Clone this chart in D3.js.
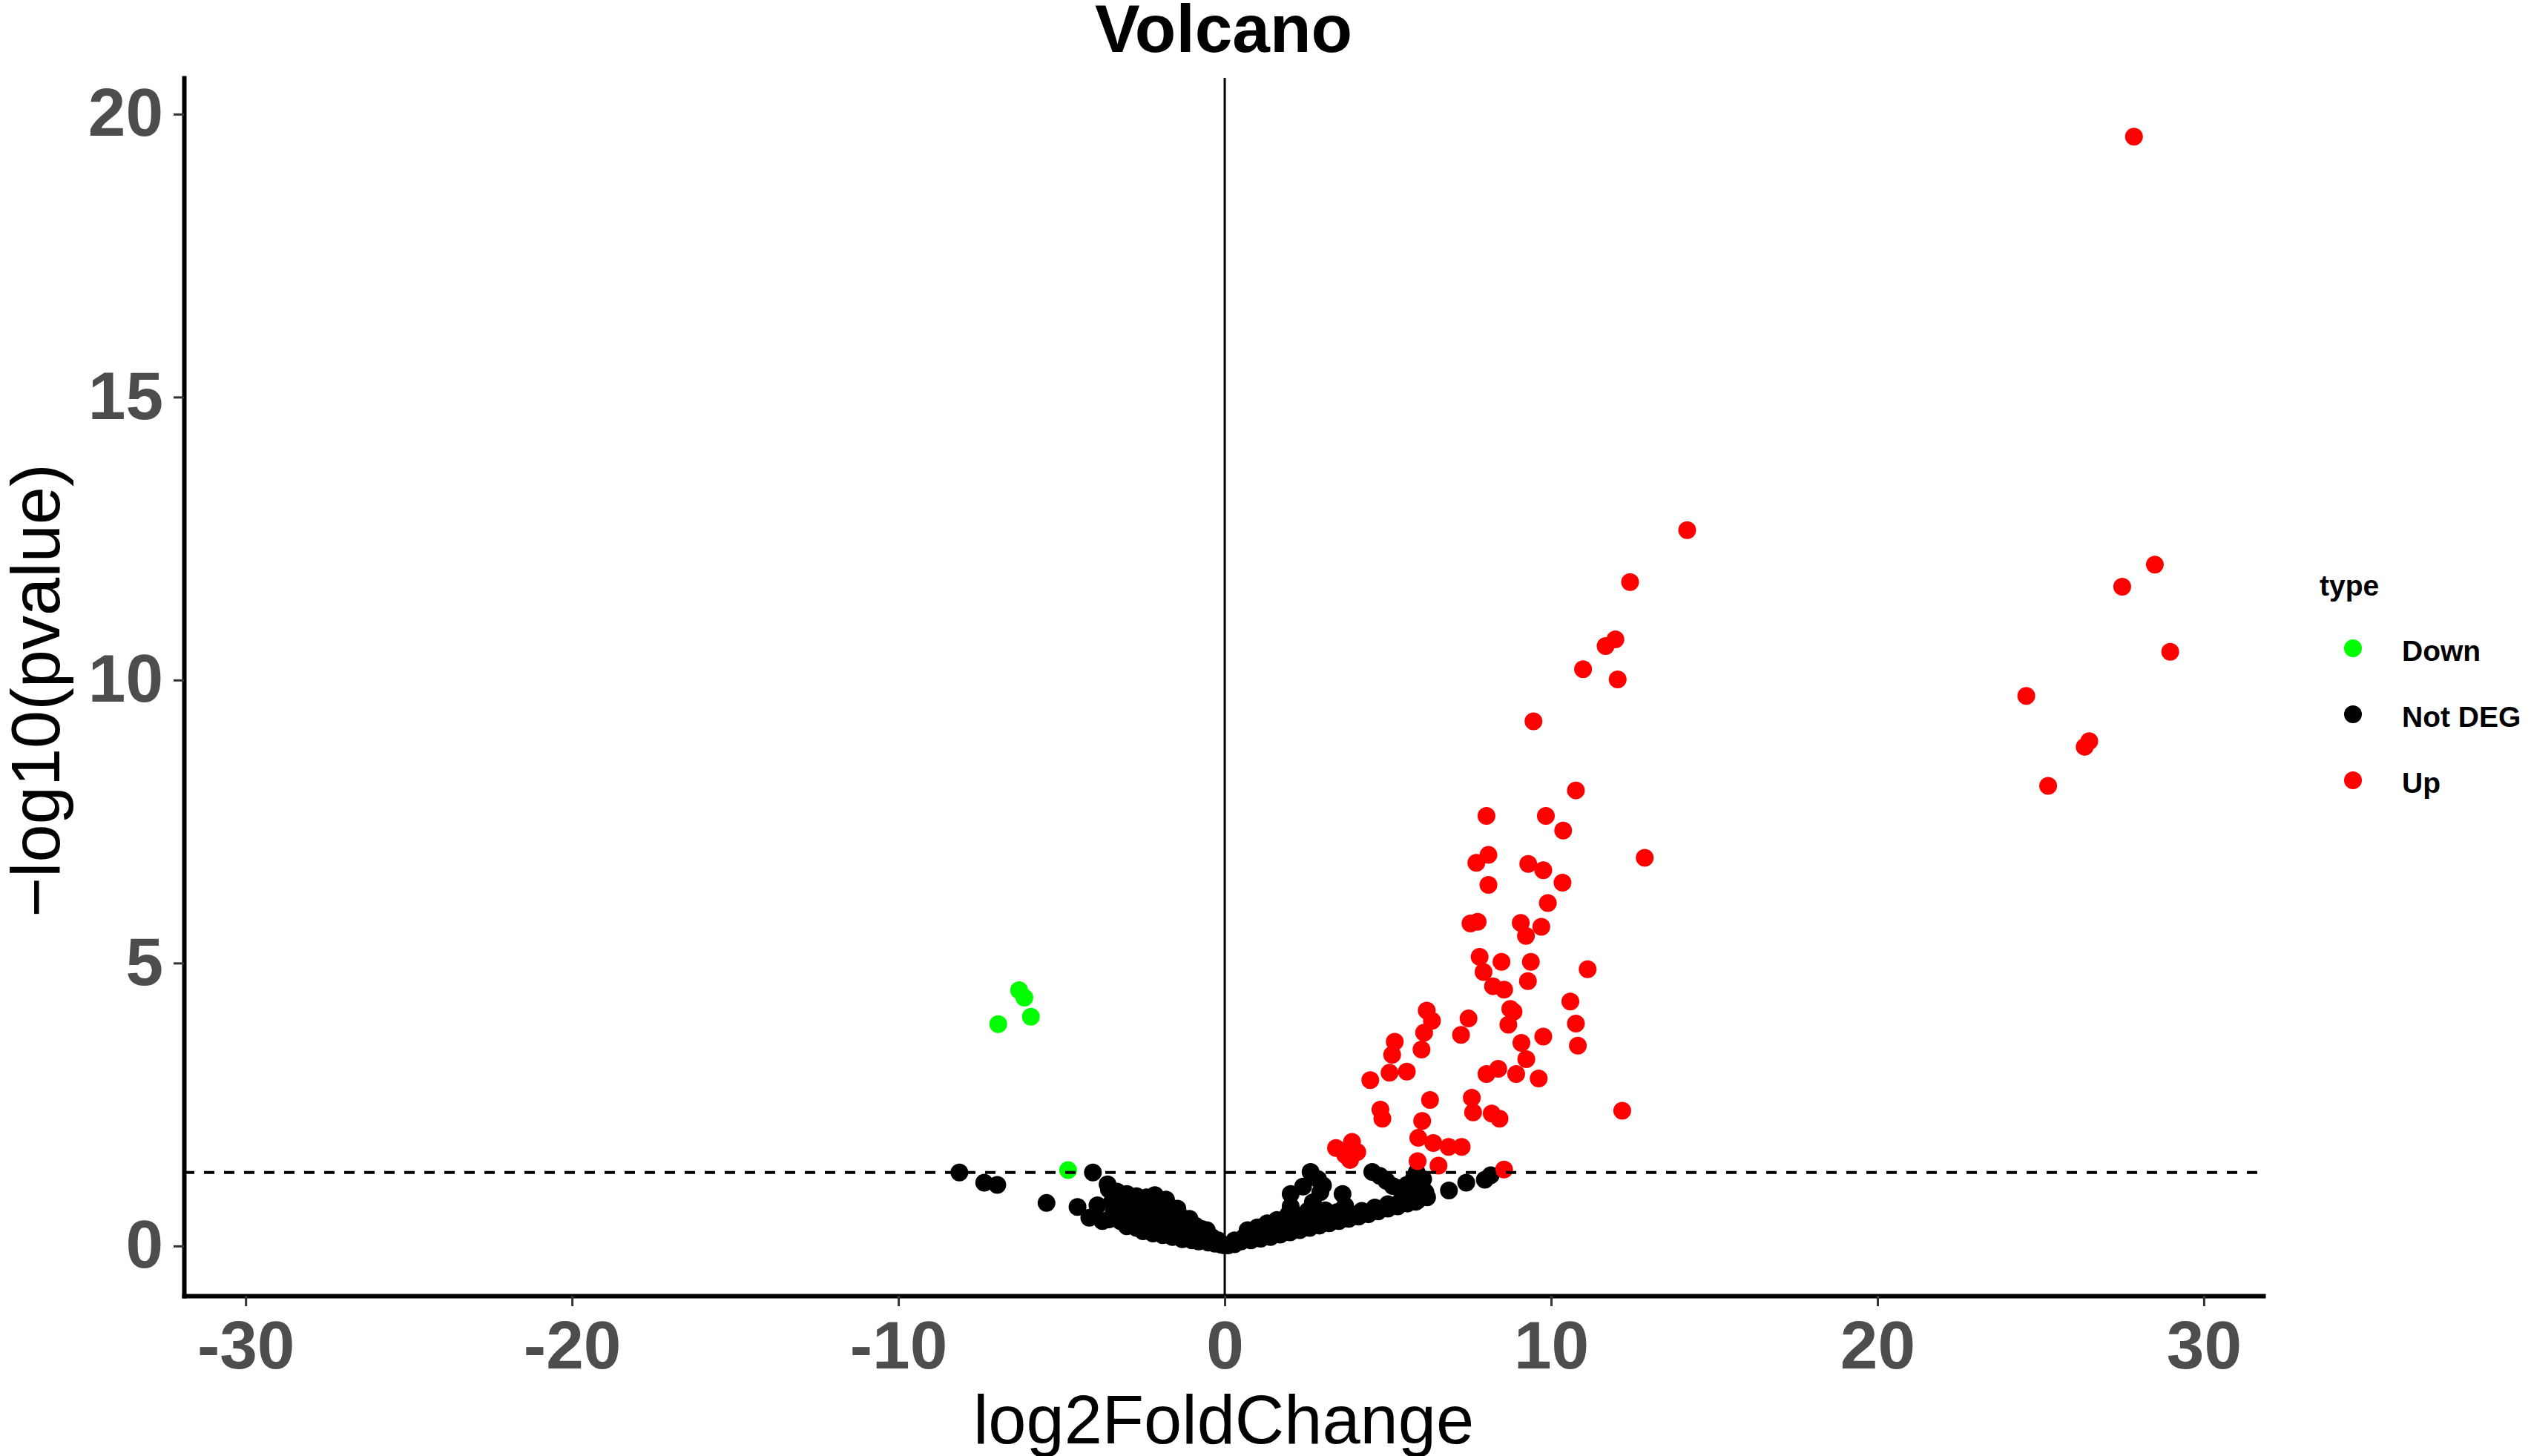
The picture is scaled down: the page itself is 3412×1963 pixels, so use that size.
<!DOCTYPE html>
<html>
<head>
<meta charset="utf-8">
<script src="https://cdn.jsdelivr.net/npm/d3@7"></script>
<style>
  body { margin: 0; background: #ffffff; }
  svg { display: block; }
</style>
</head>
<body>
<svg id="volcano-svg"></svg>
<script>
//**********  Volcano plot: log2FoldChange vs -log10(pvalue)  **************

// ---- data: [log2FoldChange, -log10(pvalue)] ----
var downPoints = [
    [-6.30, 4.52], [-6.14, 4.39], [-5.94, 4.05], [-6.94, 3.92], [-4.80, 1.34]
];

var upPoints = [
    [14.17, 12.65], [12.42, 11.73], [11.97, 10.72], [11.67, 10.60], [10.98, 10.19],
    [12.04, 10.01], [9.46, 9.27], [28.50, 12.04], [27.50, 11.65], [28.97, 10.50],
    [24.56, 9.72], [26.49, 8.92], [26.35, 8.82], [25.23, 8.13], [27.86, 19.60],
    [10.76, 8.05], [8.02, 7.60], [9.84, 7.60], [10.37, 7.34], [12.87, 6.86],
    [8.08, 6.91], [7.71, 6.77], [9.30, 6.75], [9.76, 6.64], [8.08, 6.38],
    [10.35, 6.42], [9.90, 6.06], [7.53, 5.70], [7.75, 5.73], [9.07, 5.71],
    [9.70, 5.64], [9.23, 5.48], [7.81, 5.11], [8.48, 5.02], [9.38, 5.02],
    [11.12, 4.89], [7.93, 4.84], [8.22, 4.59], [8.56, 4.53], [9.29, 4.68],
    [10.59, 4.32], [8.75, 4.19], [8.85, 4.14], [6.19, 4.16], [6.35, 3.98],
    [7.47, 4.02], [6.11, 3.77], [7.24, 3.73], [8.69, 3.91], [10.76, 3.93],
    [9.76, 3.70], [5.21, 3.61], [6.03, 3.47], [9.09, 3.59], [10.82, 3.54],
    [5.13, 3.38], [9.24, 3.30], [4.46, 2.93], [5.05, 3.06], [5.58, 3.08],
    [8.02, 3.04], [8.38, 3.13], [8.93, 3.04], [9.62, 2.96], [4.77, 2.41],
    [4.83, 2.25], [6.29, 2.58], [7.57, 2.62], [7.61, 2.36], [8.18, 2.34],
    [8.42, 2.25], [12.18, 2.39], [6.05, 2.21], [5.93, 1.91], [6.39, 1.82],
    [6.86, 1.75], [7.26, 1.75], [3.41, 1.73], [3.90, 1.84], [3.69, 1.61],
    [4.06, 1.66], [3.84, 1.52], [5.91, 1.50], [6.55, 1.42], [8.56, 1.35]
];

var notDegPoints = [
    // left side, isolated
    [-8.13, 1.30], [-7.37, 1.12], [-6.97, 1.08], [-5.46, 0.76], [-4.04, 1.30],
    [-4.51, 0.69], [-4.15, 0.50], [-3.75, 0.44], [-3.59, 1.09],
    // left arm
    [-3.55, 1.00], [-3.30, 0.96], [-3.00, 0.92], [-2.70, 0.88], [-2.40, 0.86],
    [-2.14, 0.90], [-1.80, 0.82], [-3.90, 0.72], [-3.45, 0.78], [-3.20, 0.75],
    [-2.90, 0.74], [-2.60, 0.72], [-2.30, 0.74], [-2.00, 0.72], [-1.70, 0.70],
    [-1.45, 0.66], [-3.40, 0.60], [-3.10, 0.58], [-2.80, 0.58], [-2.50, 0.56],
    [-2.20, 0.55], [-1.90, 0.55], [-1.60, 0.52], [-1.30, 0.50], [-1.08, 0.48],
    [-3.55, 0.47], [-3.20, 0.44], [-2.90, 0.44], [-2.60, 0.42], [-2.30, 0.40],
    [-2.00, 0.38], [-1.70, 0.36], [-1.40, 0.34], [-1.10, 0.34], [-0.90, 0.36],
    [-0.70, 0.30], [-3.00, 0.35], [-2.70, 0.32], [-2.40, 0.28], [-2.10, 0.27],
    [-1.80, 0.25], [-1.50, 0.22], [-1.20, 0.20], [-0.90, 0.22], [-0.60, 0.20],
    [-0.40, 0.16], [-2.50, 0.26], [-2.20, 0.22], [-1.90, 0.19], [-1.60, 0.16],
    [-1.30, 0.12], [-1.00, 0.10], [-0.80, 0.08], [-0.50, 0.06], [-0.30, 0.04],
    [-0.55, 0.28], [-0.20, 0.10], [-0.10, 0.02], [0.00, 0.01],
    // right arm, lower band
    [0.10, 0.01], [0.30, 0.03], [0.50, 0.08], [0.80, 0.10], [1.10, 0.13],
    [1.40, 0.16], [1.70, 0.20], [2.00, 0.24], [2.30, 0.28], [2.60, 0.32],
    [2.90, 0.36], [3.20, 0.40], [3.50, 0.44], [3.80, 0.48], [4.10, 0.52],
    [4.40, 0.56], [4.70, 0.61], [5.00, 0.66], [5.30, 0.70], [5.60, 0.75],
    [5.90, 0.80], [6.20, 0.86], [0.30, 0.10], [0.60, 0.16], [0.90, 0.22],
    [1.20, 0.27], [1.50, 0.32], [1.80, 0.36], [2.10, 0.38], [2.40, 0.42],
    [2.80, 0.46], [3.10, 0.50], [3.40, 0.54], [3.80, 0.58], [4.20, 0.62],
    [4.60, 0.68], [5.00, 0.74], [5.40, 0.80], [5.80, 0.84], [6.15, 0.95],
    [0.70, 0.28], [1.00, 0.33], [1.30, 0.40], [1.60, 0.46], [1.90, 0.50],
    [2.20, 0.54], [1.95, 0.56],
    // right arm, upper cluster
    [2.02, 0.92], [2.40, 1.05], [2.63, 1.31], [2.86, 1.18], [3.01, 1.07],
    [2.93, 0.95], [3.61, 0.92], [2.70, 0.77], [3.69, 0.71], [3.08, 0.63],
    [2.02, 0.70], [2.55, 0.62], [3.45, 0.60],
    [4.52, 1.31], [4.75, 1.24], [4.95, 1.15], [5.15, 1.06], [5.35, 1.02],
    [5.58, 1.08], [5.80, 1.20], [5.88, 1.30], [6.08, 1.18], [6.00, 1.05],
    [6.15, 0.88], [5.85, 0.78], [6.87, 0.98], [7.40, 1.12], [7.97, 1.17],
    [8.15, 1.25]
];

var typeLabels = ["Down", "Not DEG", "Up"];
var xTicks = [-30, -20, -10, 0, 10, 20, 30];
var yTicks = [0, 5, 10, 15, 20];
var pThreshold = 1.3; // -log10(0.05)

var colorMapping = {
    "Down": "#00FF00",
    "Not DEG": "#000000",
    "Up": "#FF0000"
};

//Setting up chart layout
var svgWidth = 3412;
var svgHeight = 1963;

var panel = {
    left: 248,
    right: 3051,
    top: 105,
    bottom: 1747
};

var dotRadius = 12;

var svg = d3.select('#volcano-svg')
    .attr('width', svgWidth)
    .attr('height', svgHeight);

var xScale = d3.scaleLinear()
    .domain([-31.89, 31.82])
    .range([panel.left, panel.right]);

var yScale = d3.scaleLinear()
    .domain([-0.88, 20.64])
    .range([panel.bottom, panel.top]);

// build one table for drawing, Not DEG first then the coloured groups
var plotData = [];
notDegPoints.forEach(p => plotData.push({ x: p[0], y: p[1], type: "Not DEG" }));
downPoints.forEach(p => plotData.push({ x: p[0], y: p[1], type: "Down" }));
upPoints.forEach(p => plotData.push({ x: p[0], y: p[1], type: "Up" }));

/////////////////////////////////////////////////////////////////////
//                        POINTS                                   //
/////////////////////////////////////////////////////////////////////
svg.append('g')
    .selectAll('circle')
    .data(plotData)
    .enter()
    .append('circle')
    .attr('cx', d => xScale(d.x))
    .attr('cy', d => yScale(d.y))
    .attr('r', dotRadius)
    .style('fill', d => colorMapping[d.type]);

// reference lines
svg.append('line')
    .attr('x1', xScale(0))
    .attr('x2', xScale(0))
    .attr('y1', panel.top)
    .attr('y2', panel.bottom)
    .style('stroke', '#000')
    .style('stroke-width', 3);

svg.append('line')
    .attr('x1', panel.left)
    .attr('x2', panel.right)
    .attr('y1', yScale(pThreshold))
    .attr('y2', yScale(pThreshold))
    .style('stroke', '#000')
    .style('stroke-width', 4)
    .style('stroke-dasharray', '14,13');

/////////////////////////////////////////////////////////////////////
//                        AXES                                     //
/////////////////////////////////////////////////////////////////////
var xAxis = d3.axisBottom(xScale)
    .tickValues(xTicks)
    .tickSizeInner(14)
    .tickSizeOuter(0)
    .tickPadding(19)
    .tickFormat(d => String(d)); // plain hyphen like the reference

svg.append('g')
    .attr('class', 'x axis')
    .attr('transform', 'translate(0,' + panel.bottom + ')')
    .call(xAxis)
    .call(styleAxis);

var yAxis = d3.axisLeft(yScale)
    .tickValues(yTicks)
    .tickSizeInner(14)
    .tickSizeOuter(0)
    .tickPadding(14)
    .tickFormat(d => String(d));

svg.append('g')
    .attr('class', 'y axis')
    .attr('transform', 'translate(' + panel.left + ',0)')
    .call(yAxis)
    .call(styleAxis);

function styleAxis(g) {
    g.select('.domain')
        .style('stroke', '#000')
        .style('stroke-width', 6)
        .style('stroke-linecap', 'square');
    g.selectAll('.tick line')
        .style('stroke', '#333333')
        .style('stroke-width', 3);
    g.selectAll('.tick text')
        .style('font-family', 'Liberation Sans, Arial, sans-serif')
        .style('font-weight', 'bold')
        .style('font-size', '91px')
        .style('fill', '#4D4D4D');
}

// titles
svg.append('text')
    .attr('x', (panel.left + panel.right) / 2)
    .attr('y', 70)
    .attr('text-anchor', 'middle')
    .style('font-family', 'Liberation Sans, Arial, sans-serif')
    .style('font-weight', 'bold')
    .style('font-size', '91px')
    .style('fill', '#000')
    .text('Volcano');

svg.append('text')
    .attr('x', (panel.left + panel.right) / 2)
    .attr('y', 1946)
    .attr('text-anchor', 'middle')
    .style('font-family', 'Liberation Sans, Arial, sans-serif')
    .style('font-size', '92px')
    .style('fill', '#000')
    .text('log2FoldChange');

svg.append('text')
    .attr('transform', 'translate(80,' + ((panel.top + panel.bottom) / 2 + 5) + ') rotate(-90)')
    .attr('text-anchor', 'middle')
    .style('font-family', 'Liberation Sans, Arial, sans-serif')
    .style('font-size', '92px')
    .style('fill', '#000')
    .text('\u2212log10(pvalue)');

/////////////////////////////////////////////////////////////////////
//                        LEGEND                                   //
/////////////////////////////////////////////////////////////////////
var legendKeyY = d3.scalePoint()
    .domain(typeLabels)
    .range([874, 1052]);

var legend = svg.append('g').attr('class', 'legend');

legend.append('text')
    .attr('x', 3127)
    .attr('y', 803)
    .style('font-family', 'Liberation Sans, Arial, sans-serif')
    .style('font-weight', 'bold')
    .style('font-size', '39px')
    .style('fill', '#000')
    .text('type');

legend.selectAll('.legendCircle')
    .data(typeLabels)
    .enter()
    .append('circle')
    .attr('cx', 3172)
    .attr('cy', d => legendKeyY(d))
    .attr('r', dotRadius)
    .style('fill', d => colorMapping[d]);

legend.selectAll('.legendText')
    .data(typeLabels)
    .enter()
    .append('text')
    .attr('x', 3238)
    .attr('y', d => legendKeyY(d) + 17)
    .style('font-family', 'Liberation Sans, Arial, sans-serif')
    .style('font-weight', 'bold')
    .style('font-size', '39px')
    .style('fill', '#000')
    .text(d => d);
</script>
</body>
</html>
